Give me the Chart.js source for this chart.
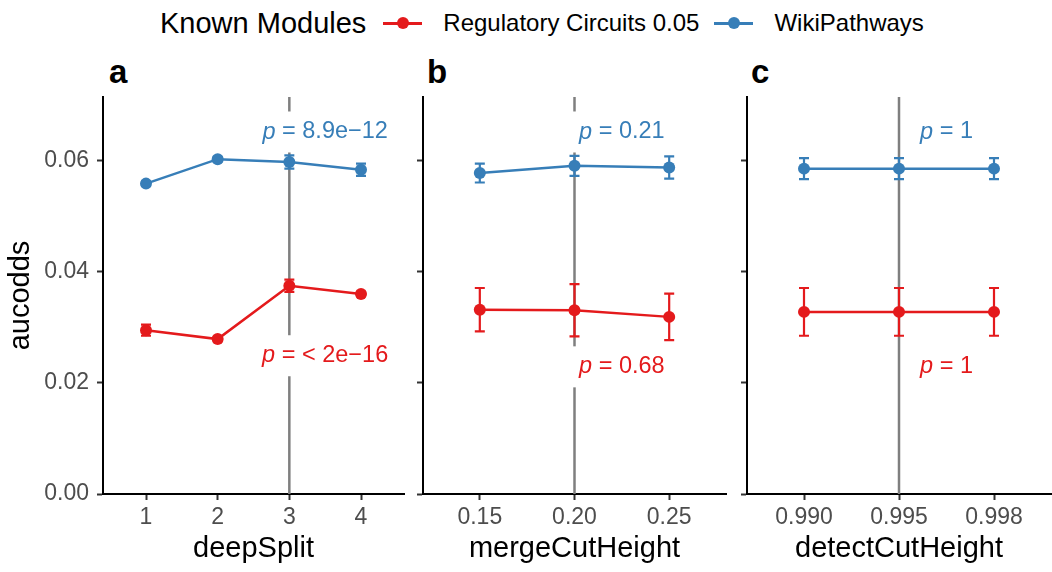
<!DOCTYPE html>
<html>
<head>
<meta charset="utf-8">
<script src="https://cdn.jsdelivr.net/npm/chart.js@4.4.1/dist/chart.umd.min.js"></script>
<style>
  html, body { margin: 0; padding: 0; background: #fff; overflow: hidden; }
  body { width: 1052px; height: 572px; position: relative; font-family: "Liberation Sans", Arial, Helvetica, sans-serif; }
  .panel { position: absolute; top: 50px; }
  .tag { position: absolute; top: 55px; font-size: 33px; font-weight: bold; line-height: 1; }
  #legend { position: absolute; left: 160px; top: 5px; height: 36px; display: flex; align-items: center; white-space: nowrap; }
  #legend .title { font-size: 29px; margin-right: 17px; }
  #legend .item { font-size: 24px; margin-right: 15px; }
  .key { position: relative; display: inline-block; width: 39px; height: 12px; margin-right: 21px; }
  .key::before { content: ""; position: absolute; left: 0; right: 0; top: 5px; height: 2.5px; background: var(--c); }
  .key::after { content: ""; position: absolute; left: 14px; top: 0; width: 12px; height: 12px; border-radius: 50%; background: var(--c); }
</style>
</head>
<body>
<div id="legend">
  <span class="title">Known Modules</span>
  <span class="key" style="--c:#E41A1C"></span><span class="item">Regulatory Circuits 0.05</span>
  <span class="key" style="--c:#377EB8"></span><span class="item">WikiPathways</span>
</div>
<div class="tag" style="left:109px">a</div>
<div class="tag" style="left:427px">b</div>
<div class="tag" style="left:751px">c</div>
<canvas id="panelA" class="panel" style="left:0px" width="410" height="522"></canvas>
<canvas id="panelB" class="panel" style="left:410px" width="322" height="522"></canvas>
<canvas id="panelC" class="panel" style="left:734px" width="323" height="522"></canvas>
<script>
// colours (RColorBrewer Set1)
const redColor = '#E41A1C';
const blueColor = '#377EB8';

// x categories
const deepSplit = ['1', '2', '3', '4'];
const mergeCutHeight = ['0.15', '0.20', '0.25'];
const detectCutHeight = ['0.990', '0.995', '0.998'];
const yTicks = [0, 0.02, 0.04, 0.06];

// Regulatory Circuits 0.05
const regDeep = [0.0295, 0.0279, 0.0375, 0.0360];
const regDeepErr = [0.0010, 0.0004, 0.0011, 0.0004];
const regMerge = [0.0332, 0.0331, 0.0319];
const regMergeErr = [0.0039, 0.0047, 0.0042];
const regDetect = [0.0328, 0.0328, 0.0328];
const regDetectErr = [0.0043, 0.0043, 0.0043];

// WikiPathways
const wikiDeep = [0.0559, 0.0603, 0.0598, 0.0584];
const wikiDeepErr = [0.0004, 0.0004, 0.0012, 0.0011];
const wikiMerge = [0.0578, 0.0591, 0.0588];
const wikiMergeErr = [0.0017, 0.0018, 0.0020];
const wikiDetect = [0.0586, 0.0586, 0.0586];
const wikiDetectErr = [0.0019, 0.0019, 0.0019];

// chosen parameter (grey line) and p-values
const chosen = ['3', '0.20', '0.995'];
const pWiki = ['8.9e\u221212', '0.21', '1'];
const pReg = ['< 2e\u221216', '0.68', '1'];

const FONT = '"Liberation Sans", Arial, Helvetica, sans-serif';

// grey line, error bars and p labels
const panelDecor = {
  id: 'panelDecor',
  beforeDatasetsDraw(chart, args, opts) {
    const {ctx, chartArea, scales: {x, y}} = chart;
    ctx.save();
    const vx = x.getPixelForValue(opts.chosenIndex);
    ctx.strokeStyle = '#7F7F7F';
    ctx.lineWidth = 2.5;
    ctx.beginPath();
    ctx.moveTo(vx, chartArea.top);
    ctx.lineTo(vx, chartArea.bottom);
    ctx.stroke();

    chart.data.datasets.forEach(ds => {
      ctx.strokeStyle = ds.borderColor;
      ctx.lineWidth = 2.2;
      ds.data.forEach((pt, i) => {
        const e = ds.errorBars[i];
        const px = x.getPixelForValue(pt.x);
        const t = y.getPixelForValue(pt.y + e);
        const b = y.getPixelForValue(pt.y - e);
        ctx.beginPath();
        ctx.moveTo(px, t); ctx.lineTo(px, b);
        ctx.moveTo(px - 5, t); ctx.lineTo(px + 5, t);
        ctx.moveTo(px - 5, b); ctx.lineTo(px + 5, b);
        ctx.stroke();
      });
    });
    ctx.restore();
  },
  afterDatasetsDraw(chart, args, opts) {
    const {ctx, scales: {x, y}} = chart;
    ctx.save();
    opts.labels.forEach(lab => {
      ctx.font = 'italic 23.5px ' + FONT;
      const wp = ctx.measureText('p').width;
      ctx.font = '23.5px ' + FONT;
      const rest = ' = ' + lab.text;
      const wr = ctx.measureText(rest).width;
      const total = wp + wr;
      const cx = x.getPixelForValue(lab.x);
      const cy = y.getPixelForValue(lab.y);
      ctx.fillStyle = '#fff';
      ctx.fillRect(cx - total / 2 - 8, cy - 20.5, total + 16, 41);
      ctx.fillStyle = lab.color;
      ctx.textBaseline = 'middle';
      ctx.textAlign = 'left';
      ctx.font = 'italic 23.5px ' + FONT;
      ctx.fillText('p', cx - total / 2, cy);
      ctx.font = '23.5px ' + FONT;
      ctx.fillText(rest, cx - total / 2 + wp, cy);
    });
    ctx.restore();
  }
};

function makePanel(id, cats, title, reg, regErr, wiki, wikiErr, pick, pW, pR, labelX, regLabelY, first) {
  const toPts = vals => vals.map((v, i) => ({x: i, y: v}));
  const dsStyle = c => ({
    borderColor: c, backgroundColor: c, borderWidth: 2.5,
    pointRadius: 6, pointHoverRadius: 6, pointBorderWidth: 0, tension: 0
  });
  return new Chart(document.getElementById(id), {
    type: 'line',
    data: {
      datasets: [
        Object.assign({label: 'Regulatory Circuits 0.05', data: toPts(reg), errorBars: regErr}, dsStyle(redColor)),
        Object.assign({label: 'WikiPathways', data: toPts(wiki), errorBars: wikiErr}, dsStyle(blueColor))
      ]
    },
    options: {
      responsive: false,
      animation: false,
      layout: {padding: {top: 47, right: first ? 3 : 0, left: 0, bottom: 0}},
      plugins: {
        legend: {display: false},
        tooltip: {enabled: false},
        panelDecor: {
          chosenIndex: cats.indexOf(pick),
          labels: [
            {text: pW, x: labelX, y: 0.0652, color: blueColor},
            {text: pR, x: labelX, y: regLabelY, color: redColor}
          ]
        }
      },
      scales: {
        x: {
          type: 'linear',
          min: -0.6,
          max: cats.length - 0.4,
          afterBuildTicks: s => { s.ticks = cats.map((c, i) => ({value: i})); },
          afterFit: s => { s.height = 78; },
          ticks: {
            callback: v => cats[v],
            color: '#4D4D4D',
            font: {size: 23, family: FONT},
            padding: 4,
            maxRotation: 0
          },
          grid: {drawOnChartArea: false, drawTicks: true, tickLength: 6, tickColor: '#333333', tickWidth: 2},
          border: {display: true, color: '#000', width: 2},
          title: {display: true, text: title, color: '#000', font: {size: 29, family: FONT}, padding: {top: 0, bottom: 6}}
        },
        y: {
          min: 0,
          max: 0.0715,
          afterBuildTicks: s => { s.ticks = yTicks.map(v => ({value: v})); },
          afterFit: s => { s.width = first ? 103 : 13; },
          ticks: {
            callback: v => first ? v.toFixed(2) : '',
            color: '#4D4D4D',
            font: {size: 23, family: FONT},
            padding: 8
          },
          grid: {drawOnChartArea: false, drawTicks: true, tickLength: 6, tickColor: '#333333', tickWidth: 2},
          border: {display: true, color: '#000', width: 2},
          title: {display: first, text: 'aucodds', color: '#000', font: {size: 29, family: FONT}, padding: {top: 4, bottom: 0}}
        }
      }
    },
    plugins: [panelDecor]
  });
}

makePanel('panelA', deepSplit, 'deepSplit', regDeep, regDeepErr, wikiDeep, wikiDeepErr,
  chosen[0], pWiki[0], pReg[0], 2.5, 0.0249, true);
makePanel('panelB', mergeCutHeight, 'mergeCutHeight', regMerge, regMergeErr, wikiMerge, wikiMergeErr,
  chosen[1], pWiki[1], pReg[1], 1.5, 0.0229, false);
makePanel('panelC', detectCutHeight, 'detectCutHeight', regDetect, regDetectErr, wikiDetect, wikiDetectErr,
  chosen[2], pWiki[2], pReg[2], 1.5, 0.0229, false);
</script>
</body>
</html>
